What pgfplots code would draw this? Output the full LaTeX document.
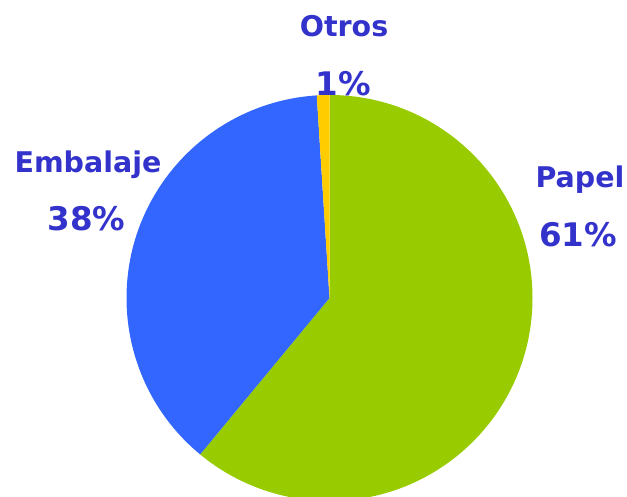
\documentclass[border=0pt]{standalone}
\usepackage{pgfplots}
\usepackage{pgfplotstable}
\pgfplotsset{compat=1.18}
\usepackage{fontspec}
\setmainfont{DejaVu Sans}

\definecolor{papel}{HTML}{99CC00}
\definecolor{embalaje}{HTML}{3366FF}
\definecolor{otros}{HTML}{FFCC00}
\definecolor{lbl}{HTML}{3333CC}

\pgfplotstableread{
label value
Papel 61
Embalaje 38
Otros 1
}\piedata

\begin{document}
\begin{tikzpicture}
\pgfplotstablegetelem{0}{value}\of\piedata \let\vA\pgfplotsretval
\pgfplotstablegetelem{1}{value}\of\piedata \let\vB\pgfplotsretval
\pgfplotstablegetelem{2}{value}\of\piedata \let\vC\pgfplotsretval
\pgfmathsetmacro\aA{90-3.6*\vA}
\pgfmathsetmacro\aB{\aA-3.6*\vB}
\pgfmathsetmacro\aC{\aB-3.6*\vC}
\begin{axis}[x=1pt, y=1pt, xmin=0, xmax=627, ymin=0, ymax=497,
  hide axis, clip=true, scale only axis]
% slices, clockwise from the top
\fill[papel] (axis cs:329.5,199) -- ++(90:203pt)
  arc[start angle=90, end angle=\aA, radius=203pt] -- cycle;
\fill[embalaje] (axis cs:329.5,199) -- ++(\aA:203pt)
  arc[start angle=\aA, end angle=\aB, radius=203pt] -- cycle;
\fill[otros] (axis cs:329.5,199) -- ++(\aB:203pt)
  arc[start angle=\aB, end angle=\aC, radius=203pt] -- cycle;
% labels
\begin{scope}[every node/.style={text=lbl, anchor=base,
  font=\fontsize{28.5}{34}\selectfont\bfseries, inner sep=0pt},
  pct/.style={font=\fontsize{32.5}{38}\selectfont\bfseries}]
\node at (axis cs:344,460) {Otros};
\node[pct] at (axis cs:343.5,401) {\vC\%};
\node at (axis cs:88,324) {Embalaje};
\node[pct] at (axis cs:86.5,266) {\vB\%};
\node at (axis cs:580,309) {Papel};
\node[pct] at (axis cs:578,250) {\vA\%};
\end{scope}
\end{axis}
\pgfresetboundingbox
\useasboundingbox (current axis.south west) rectangle (current axis.north east);
\end{tikzpicture}
\end{document}
